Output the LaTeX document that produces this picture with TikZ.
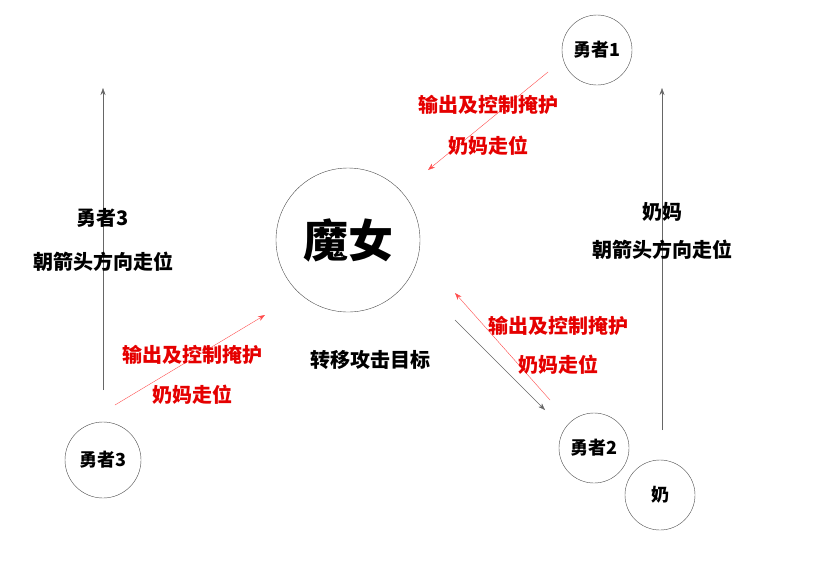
\documentclass[tikz,border=0pt]{standalone}
\usepackage{fontspec}
\setmainfont{Noto Sans CJK SC}
\usetikzlibrary{arrows.meta}
\begin{document}
\begin{tikzpicture}[x=1pt,y=-1pt,
    unit/.style={draw=black!70, circle, minimum size=70pt, inner sep=0pt, font=\fontsize{18}{20}\selectfont\bfseries},
    txt/.style={font=\fontsize{20}{22}\selectfont\bfseries},
    redtxt/.style={txt, red!90!black},
    redarrow/.style={-{Stealth[length=7pt,width=5pt]}, red!60!pink, thin},
    grayarrow/.style={-{Stealth[length=7pt,width=5pt]}, black!60, thin}]
    \useasboundingbox (0,0) rectangle (816,574);

    % Units
    \node[draw=black!70, circle, minimum size=144pt, font=\fontsize{45}{48}\selectfont\bfseries] (witch) at (348,240) {魔女};
    \node[unit] (hero1) at (597,50) {勇者1};
    \node[unit] (hero2) at (594,448) {勇者2};
    \node[unit] (nurse) at (660,495) {奶};
    \node[unit, minimum size=76pt] (hero3) at (103,460) {勇者3};

    % Movement arrows
    \coordinate (l0) at (103,390); \coordinate (l1) at (103,88);
    \coordinate (r0) at (662,430); \coordinate (r1) at (662,88);
    \draw[grayarrow] (l0) -- (l1);
    \draw[grayarrow] (r0) -- (r1);
    \node[txt] (lt1) at (103,218) {勇者3};
    \node[txt] (lt2) at (103,262) {朝箭头方向走位};
    \node[txt] (rt1) at (662,212) {奶妈};
    \node[txt] (rt2) at (662,250) {朝箭头方向走位};

    % Red arrows
    \coordinate (a0) at (548,72); \coordinate (a1) at (428,170);
    \coordinate (b0) at (550,400); \coordinate (b1) at (455,293);
    \coordinate (c0) at (115,405); \coordinate (c1) at (265,315);
    \coordinate (g0) at (455,320); \coordinate (g1) at (545,410);
    \draw[redarrow] (a0) -- (a1);
    \draw[redarrow] (b0) -- (b1);
    \draw[redarrow] (c0) -- (c1);
    \draw[grayarrow] (g0) -- (g1);

    \node[redtxt] (ta1) at (488,105) {输出及控制掩护};
    \node[redtxt] (ta2) at (488,146) {奶妈走位};
    \node[redtxt] (tb1) at (558,326) {输出及控制掩护};
    \node[redtxt] (tb2) at (558,365) {奶妈走位};
    \node[redtxt] (tc1) at (192,355) {输出及控制掩护};
    \node[redtxt] (tc2) at (192,395) {奶妈走位};
    \node[txt] (move) at (370,360) {转移攻击目标};
\end{tikzpicture}
\end{document}
